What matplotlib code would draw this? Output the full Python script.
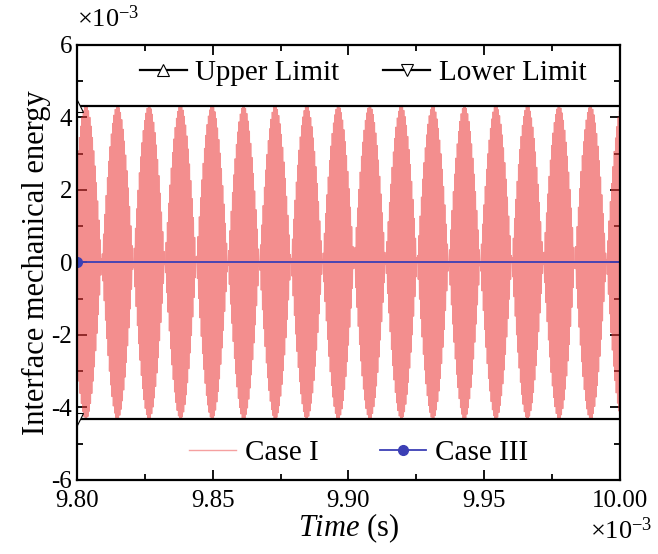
import numpy as np
import matplotlib
matplotlib.use("Agg")
import matplotlib.pyplot as plt
from matplotlib.ticker import MultipleLocator, FormatStrFormatter

plt.rcParams["font.family"] = ["Liberation Serif", "DejaVu Serif"]
plt.rcParams["mathtext.fontset"] = "custom"
plt.rcParams["mathtext.rm"] = "Liberation Serif"
plt.rcParams["mathtext.it"] = "Liberation Serif:italic"
plt.rcParams["axes.unicode_minus"] = False

# values in units of 1e-3 (time in 1e-3 s, energy in 1e-3)
t_range = [9.80, 10.00]
limit_upper = [4.33, 4.33]
limit_lower = [-4.33, -4.33]
case3_energy = [0.0, 0.0]

# Case I beating oscillation
case1_amp = 4.33          # peak of each lobe
case1_lobe_period = 0.01162   # spacing of envelope lobes
case1_first_peak = 9.8033     # time of first lobe peak
case1_carrier_period = 0.00048

t = np.linspace(t_range[0], t_range[1], 60000)
env = np.cos(np.pi * (t - case1_first_peak) / case1_lobe_period)
case1 = case1_amp * env * np.cos(2 * np.pi * (t - case1_first_peak) / case1_carrier_period)

fig = plt.figure(figsize=(6.58, 5.54), dpi=100)
ax = fig.add_axes([0.117, 0.1336, 0.825, 0.7852])

l_c1, = ax.plot(t, case1, color="#ec3c3c", lw=0.8, alpha=0.58, label="Case I")
l_c3, = ax.plot(t_range, case3_energy, color="#3b3fb5", lw=1.3, marker="o", ms=7,
                markevery=[0], label="Case III")
l_up, = ax.plot(t_range, limit_upper, color="black", lw=1.6, marker="^", ms=8,
                mfc="white", mec="black", mew=0.8, markevery=[0], label="Upper Limit")
l_lo, = ax.plot(t_range, limit_lower, color="black", lw=1.6, marker="v", ms=8,
                mfc="white", mec="black", mew=0.8, markevery=[0], label="Lower Limit")

ax.set_xlim(9.80, 10.00)
ax.set_ylim(-6, 6)
ax.xaxis.set_major_locator(MultipleLocator(0.05))
ax.xaxis.set_minor_locator(MultipleLocator(0.025))
ax.xaxis.set_major_formatter(FormatStrFormatter("%.2f"))
ax.yaxis.set_major_locator(MultipleLocator(2))
ax.yaxis.set_minor_locator(MultipleLocator(1))
ax.tick_params(which="both", direction="in", top=True, right=True, labelsize=18, width=1.3)
ax.tick_params(which="major", length=7)
ax.tick_params(which="minor", length=4)
ax.tick_params(axis="x", pad=7)
for s in ax.spines.values():
    s.set_linewidth(1.6)

ax.set_xlabel(r"$\mathit{Time}$ (s)", fontsize=22, labelpad=0)
ax.set_ylabel("Interface mechanical energy", fontsize=22, labelpad=0)

ax.text(0.0, 1.03, r"$\times10^{-3}$", transform=ax.transAxes, fontsize=19, ha="left", va="bottom")
ax.text(1.06, -0.085, r"$\times10^{-3}$", transform=ax.transAxes, fontsize=19, ha="right", va="top")

leg1 = ax.legend(handles=[l_up, l_lo], loc="center", bbox_to_anchor=(0.527, 0.935), ncol=2,
                 frameon=False, fontsize=21, numpoints=1, handlelength=1.6,
                 handletextpad=0.3, columnspacing=1.5)
ax.add_artist(leg1)
l_c1_h = plt.Line2D([], [], color="#f5a0a0", lw=1.0)
ax.legend(handles=[l_c1_h, l_c3], labels=["Case I", "Case III"], loc="center",
          bbox_to_anchor=(0.519, 0.063), ncol=2, frameon=False, fontsize=21, numpoints=1,
          handlelength=1.6, handletextpad=0.3, columnspacing=2.1)

fig.savefig("out.png", dpi=100)
